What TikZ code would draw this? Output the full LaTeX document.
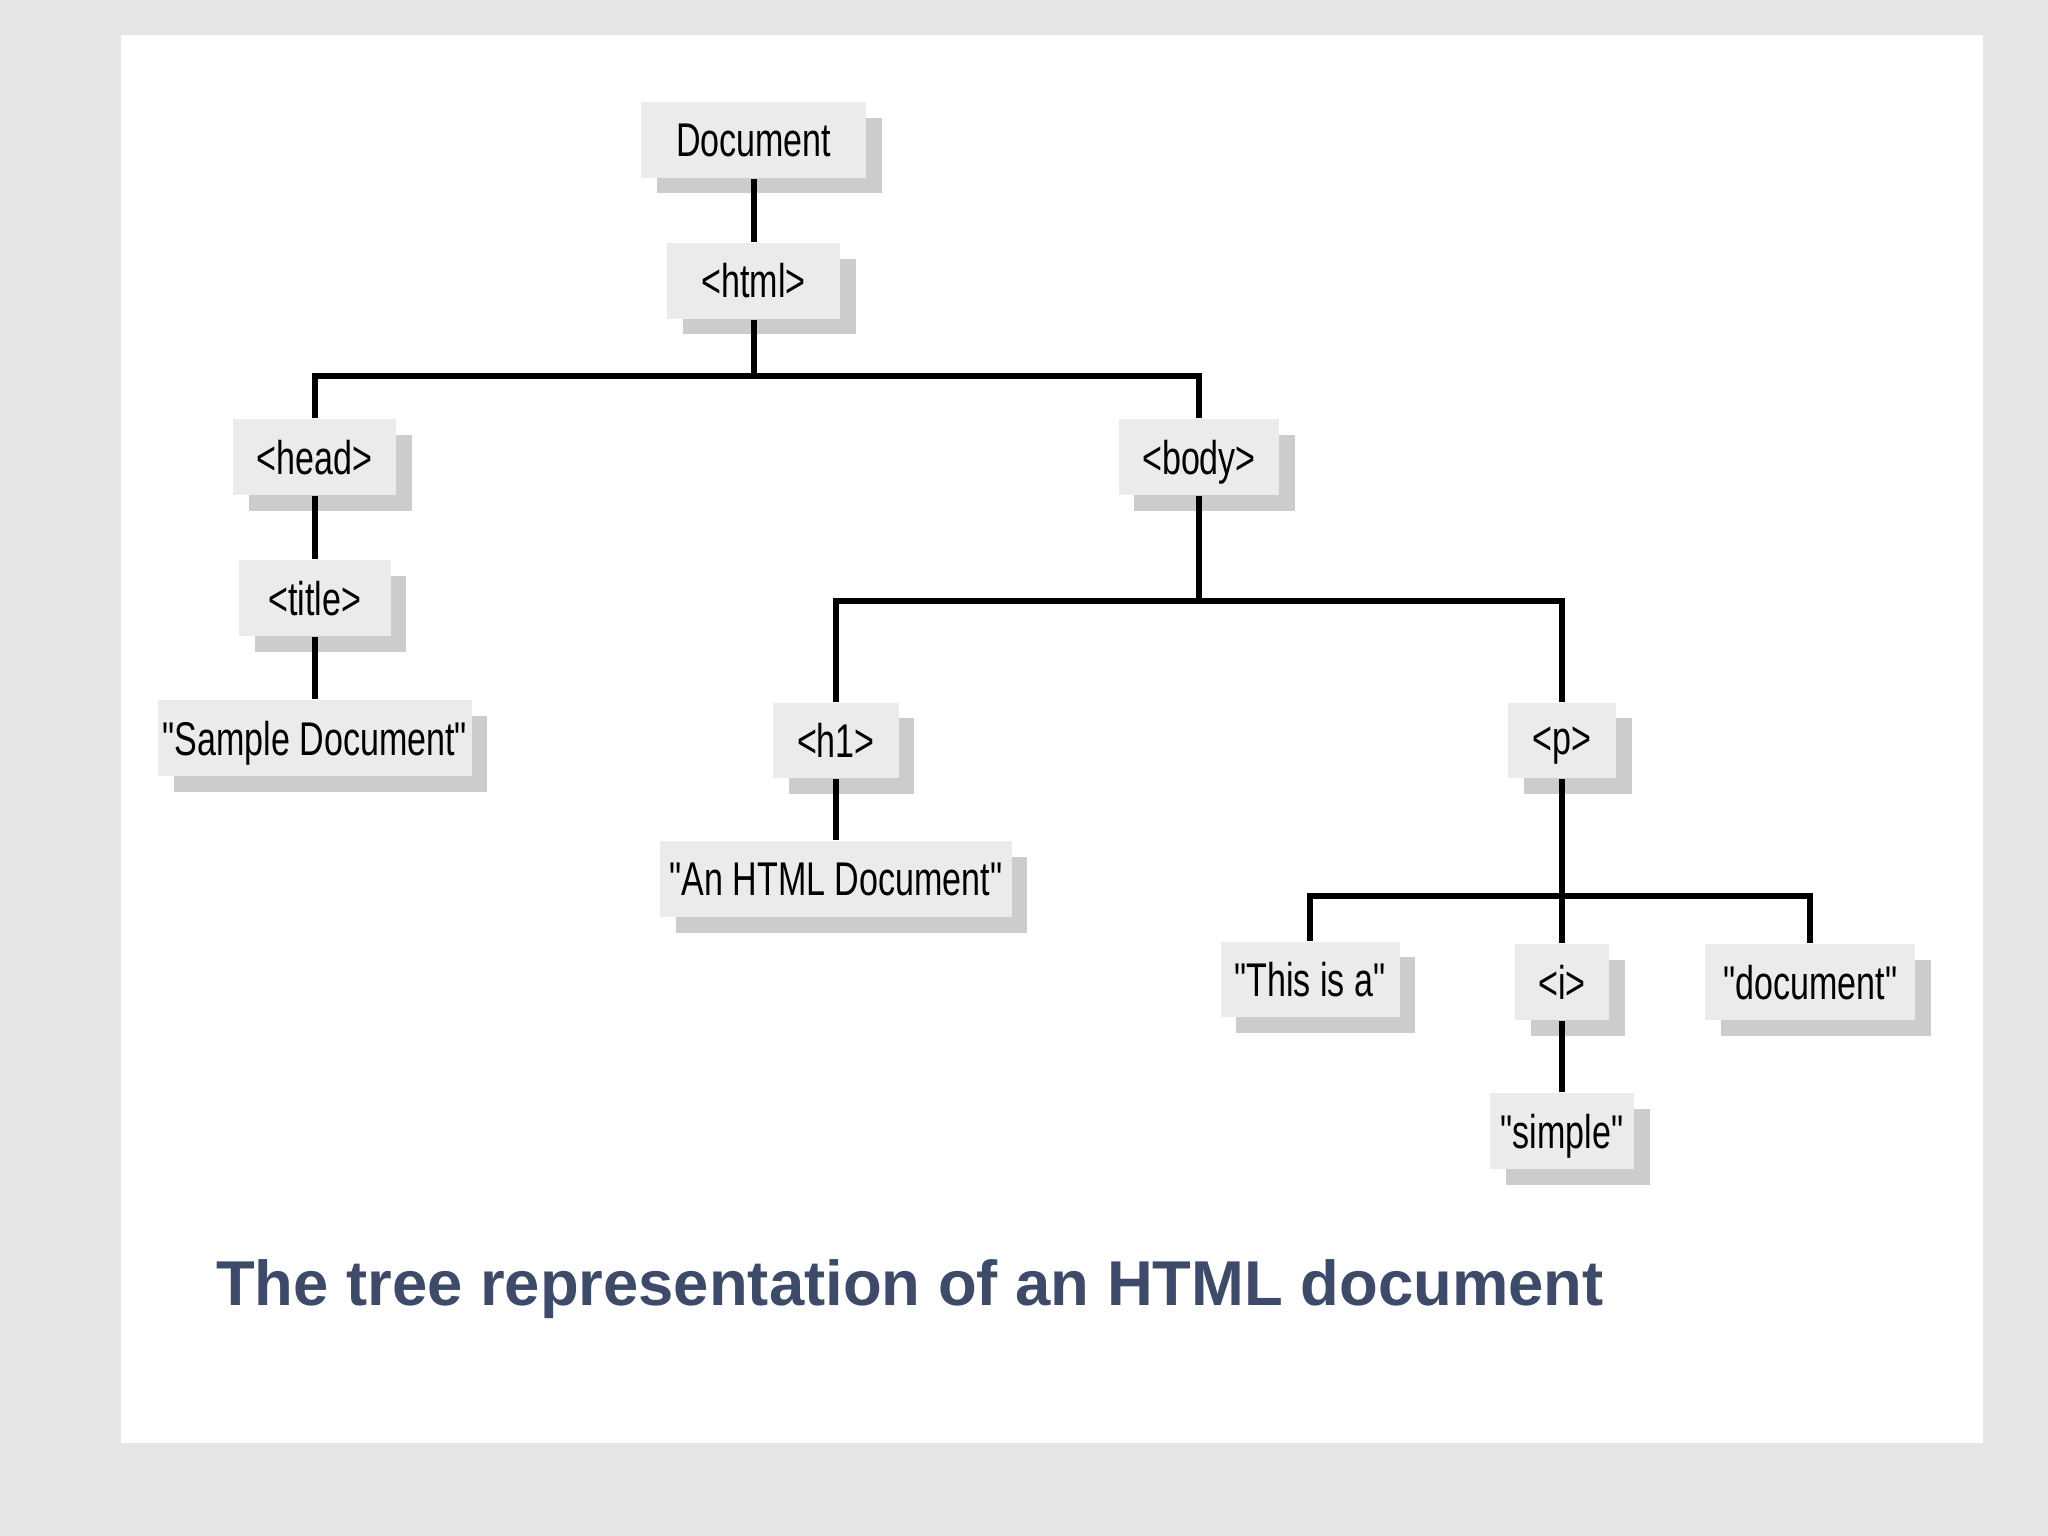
\documentclass[tikz,border=0pt]{standalone}
\usepackage{fontspec}
\setmainfont{Liberation Sans}
\newfontfamily\narrowfont[FakeStretch=0.72]{Liberation Sans}
\usetikzlibrary{shadows}
\definecolor{bgc}{HTML}{E6E6E6}
\definecolor{boxc}{HTML}{EBEBEB}
\definecolor{capc}{HTML}{3E4A6A}
\tikzset{
  tn/.style={fill=boxc, font=\narrowfont\fontsize{10.3}{12}\selectfont, inner sep=0pt,
    minimum height=0.58cm, text depth=0pt,
    drop shadow={shadow xshift=0.12cm, shadow yshift=-0.12cm, fill=black!22, opacity=0.9}},
  edge/.style={line width=1.3pt, black}
}
\begin{document}
\begin{tikzpicture}[x=0.01cm,y=-0.01cm]
\fill[bgc] (0,0) rectangle (1568,1176);
\fill[white] (93,27) rectangle (1518,1105);
\useasboundingbox (0,0) rectangle (1568,1176);
\node[tn, minimum width=1.72cm] (doc) at (577,107) {Document};
\node[tn, minimum width=1.32cm] (html) at (577,215) {<html>};
\node[tn, minimum width=1.25cm] (head) at (241,350) {<head>};
\node[tn, minimum width=1.23cm] (body) at (918,350) {<body>};
\node[tn, minimum width=1.16cm] (title) at (241,458) {<title>};
\node[tn, minimum width=2.40cm] (sd) at (241,565) {"Sample Document"};
\node[tn, minimum width=0.96cm] (h1) at (640,567) {<h1>};
\node[tn, minimum width=0.83cm] (p) at (1196,567) {<p>};
\node[tn, minimum width=2.69cm] (ahd) at (640,673) {"An HTML Document"};
\node[tn, minimum width=1.37cm] (tia) at (1003,750) {"This is a"};
\node[tn, minimum width=0.72cm] (i) at (1196,752) {<i>};
\node[tn, minimum width=1.61cm] (dc) at (1386,752) {"document"};
\node[tn, minimum width=1.10cm] (simple) at (1196,866) {"simple"};
\draw[edge] (doc) -- (html);
\draw[edge] (html) -- (577,288) coordinate (j1);
\draw[edge] (head.north) -- (241,288) -- (918,288) -- (body.north);
\draw[edge] (head) -- (title);
\draw[edge] (title) -- (sd);
\draw[edge] (body) -- (918,460);
\draw[edge] (h1.north) -- (640,460) -- (1196,460) -- (p.north);
\draw[edge] (h1) -- (ahd);
\draw[edge] (p) -- (i);
\draw[edge] (tia.north) -- (1003,686) -- (1386,686) -- (dc.north);
\draw[edge] (i) -- (simple);
\node[anchor=west, text=capc, font=\bfseries\fontsize{13.8}{16}\selectfont] (cap) at (153,987) {The tree representation of an HTML document};
\end{tikzpicture}
\end{document}
